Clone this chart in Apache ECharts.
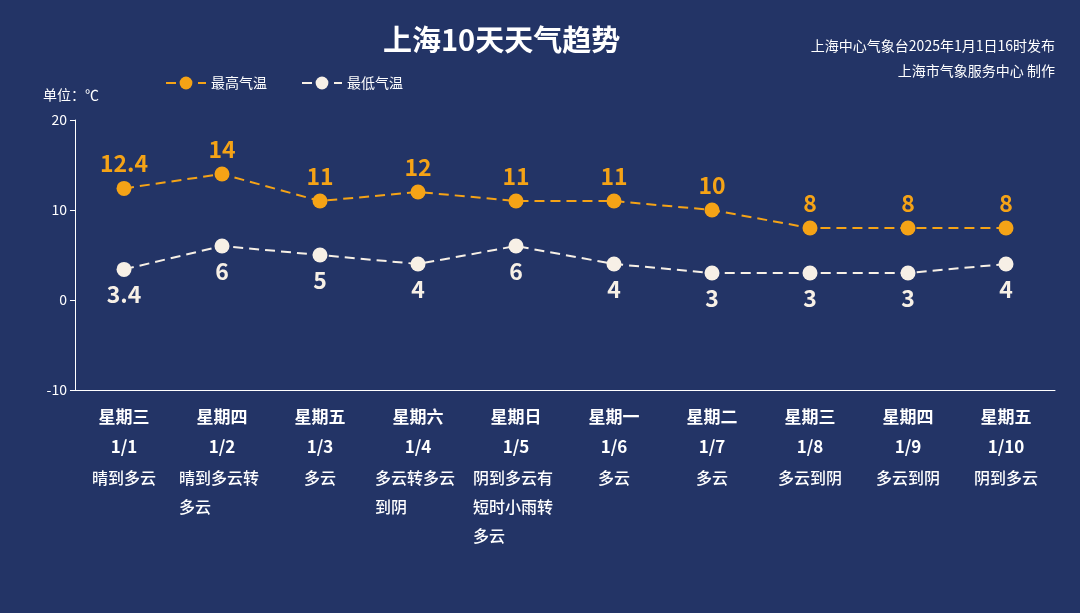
<!DOCTYPE html>
<html>
<head>
<meta charset="utf-8">
<script src="https://cdn.jsdelivr.net/npm/echarts@6/dist/echarts.min.js"></script>
<style>html,body{margin:0;padding:0;background:#233466;}#main{width:1080px;height:613px;}</style>
</head>
<body>
<div id="main"></div>
<script>
var weekdays = ['星期三','星期四','星期五','星期六','星期日','星期一','星期二','星期三','星期四','星期五'];
var dates = ['1/1','1/2','1/3','1/4','1/5','1/6','1/7','1/8','1/9','1/10'];
var weather = ['晴到多云','晴到多云转多云','多云','多云转多云到阴','阴到多云有短时小雨转多云','多云','多云','多云到阴','多云到阴','阴到多云'];
var maxTemp = [12.4,14,11,12,11,11,10,8,8,8];
var minTemp = [3.4,6,5,4,6,4,3,3,3,4];
var yTicks = [-10,0,10,20];

var font = '"Noto Sans CJK SC", sans-serif';
var chart = echarts.init(document.getElementById('main'));
chart.setOption({
	backgroundColor:'#233466',
	textStyle:{fontFamily:font},
	title:[
		{text:'上海10天天气趋势',left:378,top:20,textStyle:{color:'#fff',fontSize:29,fontWeight:'bold',fontFamily:font}},
		{text:'上海中心气象台2025年1月1日16时发布',right:20,top:34,
		 textStyle:{color:'#fff',fontSize:14,fontWeight:'normal',fontFamily:font}},
		{text:'上海市气象服务中心 制作',right:20,top:59,
		 textStyle:{color:'#fff',fontSize:14,fontWeight:'normal',fontFamily:font}},
		{text:'单位：℃',left:38,top:83,textStyle:{color:'#fff',fontSize:14,fontWeight:'normal',fontFamily:font}}
	],
	legend:{
		left:160,top:71,itemWidth:40,itemHeight:16,itemGap:34,
		textStyle:{color:'#fff',fontSize:14},
		data:['最高气温','最低气温']
	},
	grid:{left:75,right:25,top:120,bottom:223},
	xAxis:{
		type:'category',
		data:weekdays,
		axisLine:{onZero:false,lineStyle:{color:'#fff'}},
		axisTick:{length:70,lineStyle:{color:'#fff'}},
		axisLabel:{
			interval:0,margin:12,color:'#fff',
			formatter:function(v,i){
				var w = weather[i], lines = [];
				for(var k=0;k<w.length;k+=5) lines.push(w.substr(k,5));
				var s = '{d|'+v+'}\n{d|'+dates[i]+'}\n{sp|}\n';
				if(lines.length>1){
					s += lines.map(function(l){return '{w|'+l+'}';}).join('\n');
				}else{
					s += '{c|'+lines[0]+'}';
				}
				return s;
			},
			rich:{
				d:{fontSize:17,fontWeight:'bold',color:'#fff',lineHeight:30,fontFamily:font},
				sp:{height:1,lineHeight:1},
				w:{fontSize:16,fontWeight:500,color:'#fff',lineHeight:29,width:86,align:'left',fontFamily:font},
				c:{fontSize:16,fontWeight:500,color:'#fff',lineHeight:29,fontFamily:font}
			}
		}
	},
	yAxis:{
		type:'value',min:yTicks[0],max:yTicks[yTicks.length-1],interval:10,
		axisLine:{show:true,lineStyle:{color:'#fff'}},
		axisTick:{show:true,lineStyle:{color:'#fff'}},
		splitLine:{show:false},
		axisLabel:{color:'#fff',fontSize:14}
	},
	series:[
		{
			name:'最高气温',type:'line',data:maxTemp,
			symbol:'circle',symbolSize:15,
			itemStyle:{color:'#f5a316'},
			lineStyle:{color:'#f5a316',width:2,type:[10,6]},
			label:{show:true,position:'top',distance:6,color:'#f5a316',fontSize:23,fontWeight:'bold',fontFamily:font}
		},
		{
			name:'最低气温',type:'line',data:minTemp,
			symbol:'circle',symbolSize:15,
			itemStyle:{color:'#f7f0e6'},
			lineStyle:{color:'#f7f0e6',width:2,type:[10,6]},
			label:{show:true,position:'bottom',distance:6,color:'#f7f0e6',fontSize:23,fontWeight:'bold',fontFamily:font}
		}
	]
});
</script>
</body>
</html>
